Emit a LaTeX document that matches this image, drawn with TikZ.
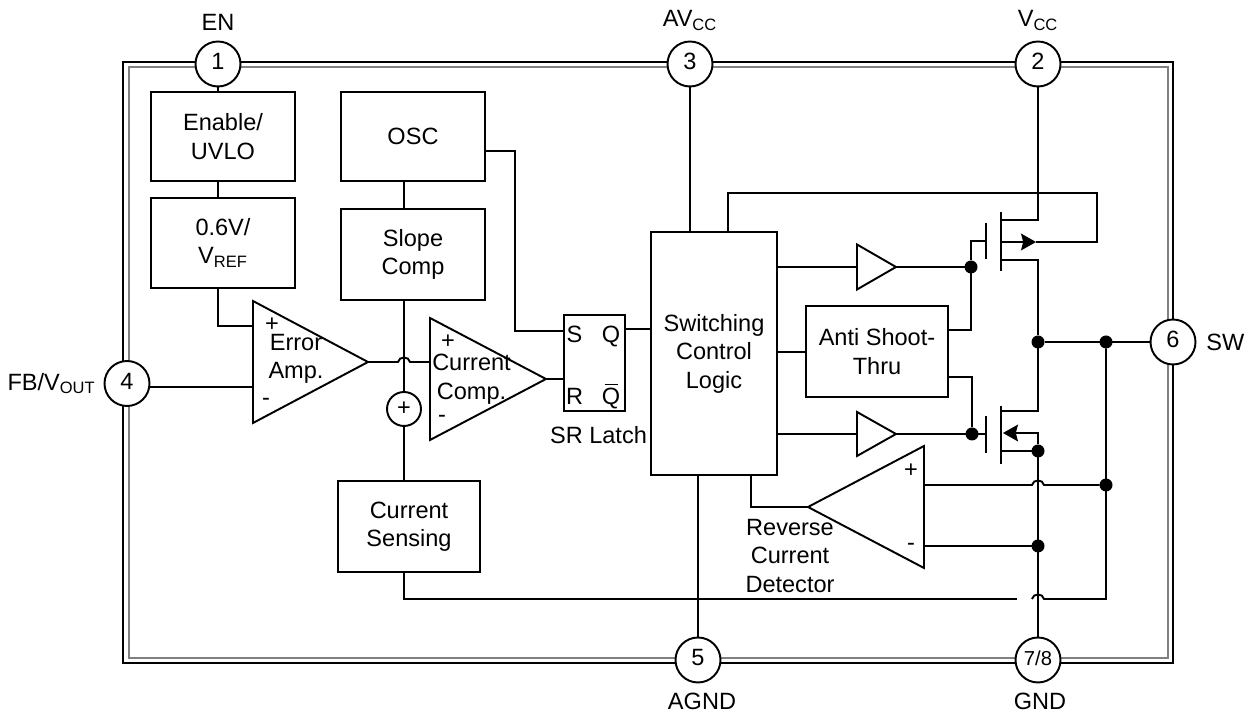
\documentclass[tikz,border=0pt]{standalone}
\usepackage{fontspec}
\setmainfont{Liberation Sans}
\usetikzlibrary{shapes.geometric}
\usetikzlibrary{positioning}
\usetikzlibrary{arrows.meta}
\newcommand{\smallsub}[1]{\textsubscript{#1}}
\newcommand{\qbar}{\leavevmode\rlap{\raisebox{11pt}{\hspace{1.6pt}\rule{7.4pt}{0.9pt}}}Q}

\begin{document}
\begin{tikzpicture}[x=0.02cm,y=-0.02cm,line width=1.1pt,font=\fontsize{13.4}{16.2}\selectfont]

    \tikzstyle{blockbox}=[draw,outer sep=0pt,align=center,inner sep=0pt]
    \tikzstyle{pincircle}=[draw,circle,fill=white,outer sep=0pt,inner sep=0pt,minimum size=0.9cm,text height=10pt,text depth=3.5pt]
    \tikzstyle{amp}=[draw,isosceles triangle,isosceles triangle stretches,outer sep=0pt,inner sep=0pt,anchor=apex]
    \tikzstyle{dot}=[fill,circle,outer sep=0pt,inner sep=0pt,minimum size=0.26cm]
    \tikzstyle{mostip}=[-{Stealth[length=8.5pt,width=9.5pt,inset=1.2pt]}]
    \tikzstyle{latchtxt}=[inner sep=0pt,text height=10pt,text depth=0pt]

\useasboundingbox (0,0) rectangle (1252,715);

% package outline
\draw[line width=1.6pt] (123,62) rectangle (1173,663);
\draw[gray,line width=1pt] (129,67) rectangle (1168,658);

% blocks
\node (enable) [blockbox,minimum width=2.88cm,minimum height=1.78cm] at (223,136.5) {Enable/\\UVLO};
\node (vref) [blockbox,minimum width=2.88cm,minimum height=1.8cm] at (223,243) {0.6V/\\V\smallsub{REF}};
\node (osc) [blockbox,minimum width=2.88cm,minimum height=1.78cm] at (413,136.5) {OSC};
\node (slope) [blockbox,minimum width=2.88cm,minimum height=1.82cm] at (413,254.5) {Slope\\Comp};
\node (sensing) [blockbox,minimum width=2.84cm,minimum height=1.82cm] at (409,526.5) {Current\\Sensing};
\node (logic) [blockbox,minimum width=2.52cm,minimum height=4.86cm] at (714,353.5) {Switching\\Control\\Logic};
\node (antishoot) [blockbox,minimum width=2.84cm,minimum height=1.82cm] at (877,351.5) {Anti Shoot-\\Thru};
\node (latch) [blockbox,minimum width=1.22cm,minimum height=1.92cm] at (594.5,363) {};
\node (lblS) [latchtxt] at (574.5,334) {S};
\node (lblQ) [latchtxt] at (611,334) {Q};
\node (lblR) [latchtxt] at (574.5,396) {R};
\node (lblQbar) [latchtxt] at (611,396) {\qbar};
\node (latchname) [below=0.28cm of latch,xshift=0.08cm,inner sep=0pt] {SR Latch};

% amplifiers
\node (err) [amp,minimum width=2.44cm,minimum height=2.3cm] at (368,362) {};
\node (comp) [amp,minimum width=2.44cm,minimum height=2.32cm] at (546,379) {};
\node (rev) [amp,shape border rotate=180,minimum width=2.44cm,minimum height=2.32cm] at (808,507) {};
\node (bufup) [amp,minimum width=0.9cm,minimum height=0.78cm] at (896,267) {};
\node (bufdn) [amp,minimum width=0.88cm,minimum height=0.78cm] at (896,434) {};
\node (errtxt) [align=center,inner sep=0pt] at (296,359) {Error\\Amp.};
\node (comptxt) [align=center,inner sep=0pt] at (471.5,379) {Current\\Comp.};
\node (revtxt) [align=center,inner sep=0pt] at (790,556) {Reverse\\Current\\Detector};
\node (errplus) [inner sep=0pt] at (272,325) {+};
\node (errminus) [inner sep=0pt] at (266,402) {-};
\node (compplus) [inner sep=0pt] at (448,342) {+};
\node (compminus) [inner sep=0pt] at (442,419) {-};
\node (revplus) [inner sep=0pt] at (911,471) {+};
\node (revminus) [inner sep=0pt] at (911,547) {-};
\node (adder) [draw,circle,outer sep=0pt,inner sep=0pt,minimum size=0.68cm] at (404,409) {+};

% pins
\node (pinEN) [pincircle] at (218,64) {1};
\node (pinAV) [pincircle] at (690,64) {3};
\node (pinVCC) [pincircle] at (1038,64) {2};
\node (pinFB) [pincircle] at (127,383.5) {4};
\node (pinSW) [pincircle] at (1173,342) {6};
\node (pinAG) [pincircle] at (698,660) {5};
\node (pinGND) [pincircle,font=\fontsize{11.5}{14}\selectfont] at (1038,660) {7/8};
\node (nameEN) [above=0.2cm of pinEN,inner sep=0pt] {EN};
\node (nameAV) [above=0.2cm of pinAV,inner sep=0pt] {AV\smallsub{CC}};
\node (nameVCC) [above=0.2cm of pinVCC,inner sep=0pt] {V\smallsub{CC}};
\node (nameFB) [left=0.16cm of pinFB,inner sep=0pt] {FB/V\smallsub{OUT}};
\node (nameSW) [right=0.2cm of pinSW,inner sep=0pt] {SW};
\node (nameAG) [below=0.2cm of pinAG,xshift=0.08cm,inner sep=0pt] {AGND};
\node (nameGND) [below=0.2cm of pinGND,xshift=0.04cm,inner sep=0pt] {GND};

% junctions
\node (dotgup) [dot] at (971,267) {};
\node (dotgdn) [dot] at (972,434) {};
\node (dotsw) [dot] at (1038,342) {};
\node (dotsw2) [dot] at (1106,342) {};
\node (dotsrc) [dot] at (1038,451) {};
\node (dotminus) [dot] at (1038,546) {};
\node (dotplus) [dot] at (1106,485) {};

\coordinate (errin) at (253,387);

% left side wiring
\draw (pinEN) -- (pinEN |- enable.north);
\draw (pinEN |- enable.south) -- (pinEN |- vref.north);
\draw (pinEN |- vref.south) |- (253,326);
\draw (pinFB.east |- errin) -- (errin);
\draw (404,181) -- (404,209);
\draw (404,300) -- (adder.north);
\draw (adder.south) -- (404,481);
\draw (osc.east |- 0,151) -| (515,331) -- (564,331);
\draw (err.apex) -- (398,362) .. controls +(1,-6) and +(-1,-6) .. (410,362) -- (430,362);
\draw (comp.apex) -- (564,379);
\draw (625,329) -- (651,329);
\draw (pinAV) -- (690,232);
\draw (698,475) -- (pinAG);

% logic to switches
\draw (728,232) |- (1097,193) |- (1036,242);
\draw[mostip] (1001,242) -- (1036,242);
\draw (777,267) -- (857,267);
\draw (bufup.apex) -- (dotgup);
\draw (777,434) -- (857,434);
\draw (bufdn.apex) -- (986,434);
\draw (777,352) -- (806,352);
\draw (dotgup) -- (971,330) -- (948,330);
\draw (948,377) -| (dotgdn);

% high side
\draw (986,223) -- (986,259);
\draw (1001,212) -- (1001,271);
\draw (986,241) -- (971,241) -- (dotgup);
\draw (pinVCC) -- (1038,220) -- (1001,220);
\draw (1001,260) -- (1038,260) -- (dotsw);

% low side
\draw (986,416) -- (986,453);
\draw (1001,406) -- (1001,464);
\draw (dotsw) -- (1038,411) -- (1001,411);
\draw (1001,451) -- (dotsrc);
\draw[mostip] (dotsrc) -- (1038,433) -- (1003,433);
\draw (dotsrc) -- (pinGND);

% sw node and current sense
\draw (dotsw) -- (pinSW);
\draw (dotsw2) -- (1106,599) -- (1044,599) .. controls +(-1,-6) and +(1,-6) .. (1032,599);
\draw (sensing.south -| adder) |- (1017,599);
\draw (924,485) -- (1032,485) .. controls +(1,-6) and +(-1,-6) .. (1044,485) -- (dotplus);
\draw (924,546) -- (dotminus);
\draw (rev.apex) -- (751,507) -- (751,475);

\end{tikzpicture}
\end{document}
